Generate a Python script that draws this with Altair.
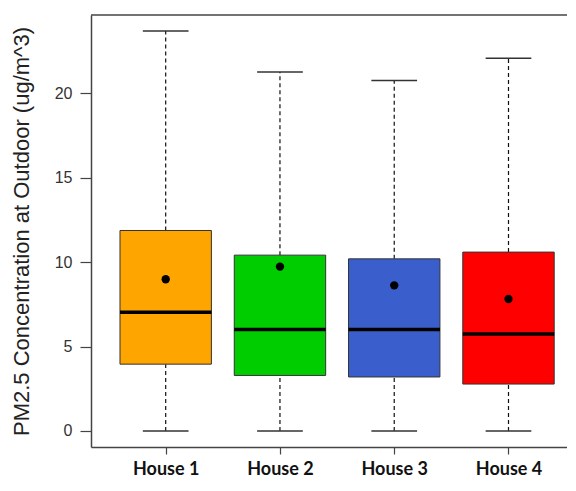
import altair as alt
import pandas as pd

houses = ["House 1", "House 2", "House 3", "House 4"]
idx = [1, 2, 3, 4]
q_min = [0.0, 0.0, 0.0, 0.0]
q1 = [3.96, 3.29, 3.20, 2.78]
median = [7.03, 6.01, 6.01, 5.74]
q3 = [11.88, 10.42, 10.20, 10.60]
q_max = [23.70, 21.27, 20.77, 22.08]
means = [8.99, 9.74, 8.63, 7.82]
colors = ["#FFA500", "#00CD00", "#3A5FCD", "#FF0000"]
y_ticks = [0, 5, 10, 15, 20]
y_title = "PM2.5 Concentration at Outdoor (ug/m^3)"

df = pd.DataFrame({
    "house": houses, "idx": idx, "min": q_min, "q1": q1, "median": median,
    "q3": q3, "max": q_max, "mean": means,
})

W, H = 476, 432
xs = alt.Scale(domain=[0.3463, 4.512], nice=False, zero=False)
ys = alt.Scale(domain=[-0.95, 24.65], nice=False, zero=False)

label_expr = "[" + ",".join("'%s'" % h for h in houses) + "][datum.value - 1]"

base = alt.Chart(df).transform_calculate(
    lo="datum.idx - 0.4", hi="datum.idx + 0.4",
    clo="datum.idx - 0.2", chi="datum.idx + 0.2",
)

x_axis = alt.Axis(values=idx, labelExpr=label_expr, tickSize=7, tickColor="#444",
                  tickWidth=1.2, domainColor="#444", domainWidth=1.5,
                  labelFont="Lato", labelFontSize=18, labelFontWeight="bold",
                  labelColor="#111", labelPadding=6, grid=False, title=None)
y_axis = alt.Axis(values=y_ticks, tickSize=11, tickColor="#444", tickWidth=1.2,
                  domainColor="#444", domainWidth=1.5, labelFont="Liberation Sans",
                  labelFontSize=16, labelColor="#333", labelPadding=8, grid=False,
                  title=y_title, titleFont="Liberation Sans", titleFontSize=22,
                  titleFontWeight="normal", titleColor="#222", titleAngle=270,
                  titleX=-63, titleY=H / 2, titleAlign="center",
                  titleBaseline="alphabetic")


def X(f):
    return alt.X(f, scale=xs, axis=x_axis, title=None)


def Y(f):
    return alt.Y(f, scale=ys, axis=y_axis, title=y_title)


upper = base.mark_rule(color="#111", strokeWidth=1.2, strokeDash=[4, 3]).encode(
    x=X("idx:Q"), y=Y("q3:Q"), y2="max:Q",
)
lower = base.mark_rule(color="#111", strokeWidth=1.2, strokeDash=[4, 3]).encode(
    x=X("idx:Q"), y=Y("min:Q"), y2="q1:Q",
)
cap_hi = base.mark_rule(color="#333", strokeWidth=1.5).encode(
    x=X("clo:Q"), x2="chi:Q", y=Y("max:Q"),
)
cap_lo = base.mark_rule(color="#333", strokeWidth=1.5).encode(
    x=X("clo:Q"), x2="chi:Q", y=Y("min:Q"),
)
box = base.mark_rect(stroke="#333", strokeWidth=1, opacity=1).encode(
    x=X("lo:Q"), x2="hi:Q", y=Y("q1:Q"), y2="q3:Q",
    color=alt.Color("house:N", scale=alt.Scale(domain=houses, range=colors), legend=None),
)
med = base.mark_rule(color="#000", strokeWidth=3.5).encode(
    x=X("lo:Q"), x2="hi:Q", y=Y("median:Q"),
)
mean_pt = base.mark_point(filled=True, color="#000", size=70, opacity=1).encode(
    x=X("idx:Q"), y=Y("mean:Q"),
)
top = alt.Chart(pd.DataFrame({"a": [0]})).mark_rule(color="#444", strokeWidth=1.5).encode(
    x=alt.value(0), x2=alt.value(W), y=alt.value(0),
)

chart = alt.layer(upper, lower, cap_hi, cap_lo, box, med, mean_pt, top).properties(
    width=W, height=H,
    autosize=alt.AutoSizeParams(type="none"),
    padding={"left": 83, "top": 7, "right": 0, "bottom": 35},
    background="white",
).configure_view(stroke=None)

chart.save("out.html", embed_options={"renderer": "svg", "actions": False})
